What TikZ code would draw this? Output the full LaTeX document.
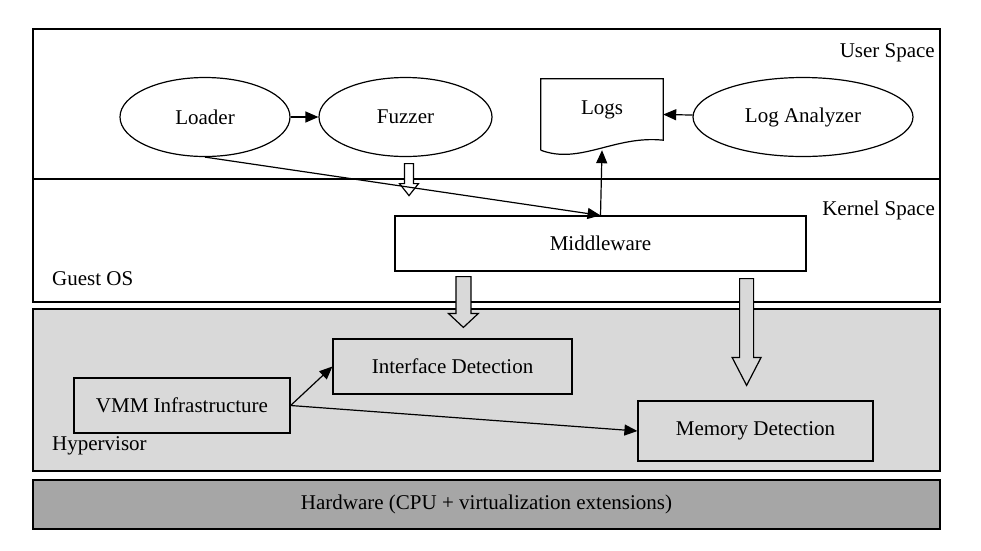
\documentclass[tikz,border=0pt]{standalone}
\usepackage{fontspec}
\setmainfont{Liberation Serif}
\usetikzlibrary{shapes.geometric, arrows.meta, calc}
\definecolor{hvgray}{RGB}{217,217,217}
\definecolor{hwgray}{RGB}{166,166,166}
\tikzset{
	layer/.style = {rectangle, draw, line width=1.2pt, inner sep=0pt},
	blob/.style = {ellipse, draw, fill=white, line width=1.2pt, minimum height=79pt, inner sep=0pt},
	unit/.style = {rectangle, draw, line width=1.2pt, inner sep=0pt},
	tag/.style = {inner sep=0pt},
	link/.style = {-{Triangle[length=13pt, width=11pt]}, line width=1.2pt},
	hollow/.style = {draw, line width=1.2pt, line join=miter},
}
% #1 style, #2 start, #3 tip, #4 half shaft, #5 half head, #6 head length
\newcommand{\hollowarrow}[6]{%
	\draw[hollow, #1] let \p1 = #2, \p2 = #3 in
		(\x1-#4,\y1) -- (\x1+#4,\y1) -- (\x1+#4,\y2+#6) -- (\x1+#5,\y2+#6)
		-- (\x1,\y2) -- (\x1-#5,\y2+#6) -- (\x1-#4,\y2+#6) -- cycle;
}

\begin{document}
\begin{tikzpicture}[x=1pt, y=-1pt, font=\fontsize{21}{25}\selectfont]
	\useasboundingbox (0,0) rectangle (981,550);
	\node[layer, minimum width=907pt, minimum height=273pt] (guest) at (486.5,165.5) {};
	\draw[line width=1.2pt] (33,179) -- (940,179);
	\node[layer, fill=hvgray, minimum width=907pt, minimum height=162pt] (hyper) at (486.5,390) {};
	\node[layer, fill=hwgray, minimum width=907pt, minimum height=49pt] (hw) at (486.5,504.5) {Hardware (CPU + virtualization extensions)};
	\node[tag, anchor=east] (user) at (935,53) {User Space};
	\node[tag, anchor=east] (kernel) at (935,210) {Kernel Space};
	\node[tag, anchor=west] (os) at (52,279) {Guest OS};
	\node[tag, anchor=west] (hv) at (52,446) {Hypervisor};

	\node[blob, minimum width=170pt] (loader) at (205,117) {Loader};
	\node[blob, minimum width=173pt] (fuzzer) at (405.5,117) {Fuzzer};
	\node[blob, minimum width=220pt] (logan) at (803,117) {Log Analyzer};
	\node[tag, minimum width=122pt, minimum height=71pt] (logs) at (602,114.5) {};
	\draw[line width=1.2pt] (logs.south west) -- (logs.north west) -- (logs.north east)
		-- ($(logs.south east)+(0,-10)$) .. controls (615,135) and (580,165) .. (logs.south west);
	\node[tag] (logstext) at ($(logs)+(0,-5)$) {Logs};

	\node[unit, fill=white, minimum width=411pt, minimum height=55pt] (mw) at (600.5,243.5) {Middleware};
	\node[unit, minimum width=239pt, minimum height=55pt] (intf) at (452.5,366.5) {Interface Detection};
	\node[unit, minimum width=216pt, minimum height=55pt] (vmm) at (182,405.5) {VMM Infrastructure};
	\node[unit, minimum width=235pt, minimum height=60pt] (mem) at (755.5,431) {Memory Detection};

	\hollowarrow{fill=white}{($(fuzzer.south)+(3.5,6.5)$)}{($(fuzzer.south)+(3.5,38.5)$)}{4.5pt}{9.5pt}{12pt}
	\hollowarrow{fill=hvgray}{($(mw.south west)+(69,5)$)}{($(intf.north)+(11.5,-11)$)}{7.5pt}{15pt}{14pt}
	\hollowarrow{fill=hvgray}{($(mw.south east)+(-60,7)$)}{($(mem.north)+(-9.5,-15)$)}{7pt}{14.5pt}{28pt}

	\draw[link] (loader) -- (fuzzer);
	\draw[link] (logan) -- (logs.east);
	\draw[link] (loader.south) -- (mw.north);
	\draw[link] (mw.north) -- (logs.south);
	\draw[link] (vmm.east) -- (intf.west);
	\draw[link] (vmm.east) -- (mem.west);
\end{tikzpicture}
\end{document}
